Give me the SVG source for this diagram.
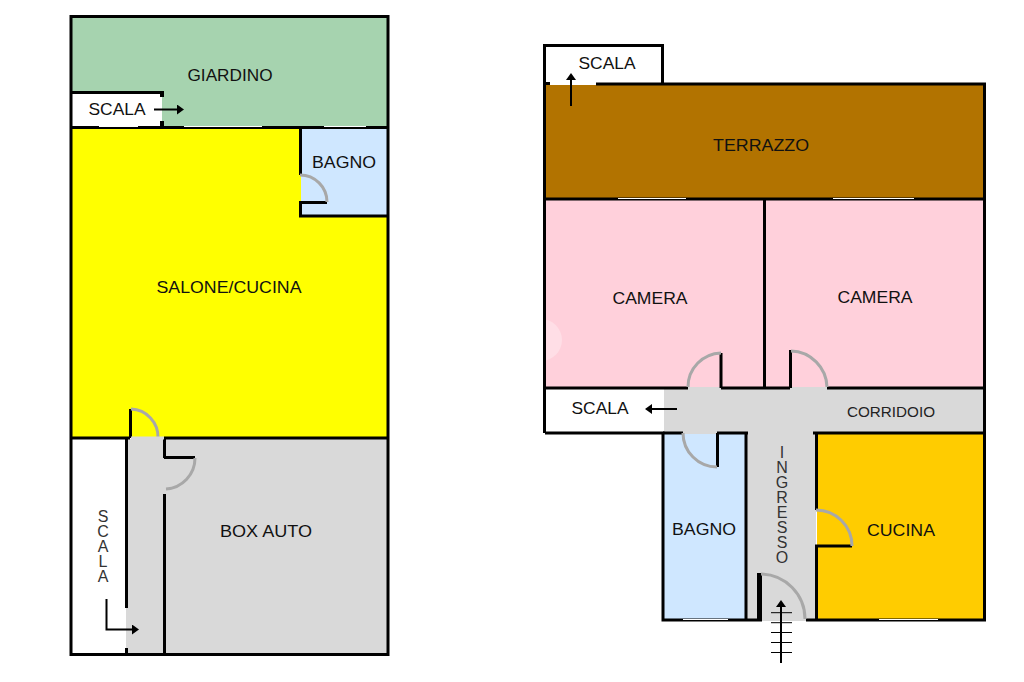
<svg xmlns="http://www.w3.org/2000/svg" width="1024" height="682" viewBox="0 0 1024 682">
<style>
text{font-family:"Liberation Sans",Arial,sans-serif;font-size:17px;fill:#111;text-anchor:middle}
.w{fill:none;stroke:#000;stroke-width:3}
.l{fill:none;stroke:#000;stroke-width:3}
.a{fill:none;stroke:#a8a8a8;stroke-width:3}
.win{fill:none;stroke:#fff;stroke-width:1.2}
.c{fill:none;stroke:#000;stroke-width:2}
.thin{font-size:14px;fill:#222}
.v{font-size:16px;fill:#333}
</style>
<defs>
<marker id="h" markerWidth="3.500" markerHeight="5" refX="0" refY="2.500" orient="auto"><path d="M0 0L3.500 2.500L0 5z" fill="#000"/></marker>
</defs>
<rect width="1024" height="682" fill="#fff"/>

<g id="giardino">
<rect x="71" y="17" width="317" height="110" fill="#a6d3af"/>
<text x="230" y="80.500" textLength="85" lengthAdjust="spacingAndGlyphs">GIARDINO</text>
</g>
<g id="scala-giardino">
<rect x="72" y="92" width="90" height="35" fill="#fff"/>
<path class="w" d="M71 92.500H163"/>
<path d="M160 91h4v6h-4zM160 121h4v6h-4z" fill="#000"/>
<text x="117" y="114.500" textLength="57" lengthAdjust="spacingAndGlyphs">SCALA</text>
</g>
<g id="salone-cucina">
<rect x="71" y="128" width="317" height="310" fill="#ffff00"/>
<text x="229" y="292.500" textLength="145" lengthAdjust="spacingAndGlyphs">SALONE/CUCINA</text>
</g>
<g id="bagno-terra">
<rect x="301" y="128" width="87" height="87" fill="#cfe7ff"/>
<path class="w" d="M300.500 127V175M300.500 202V216H388"/>
<path class="l" d="M299 202.500H327"/>
<path class="a" d="M300 175A27 27 0 0 1 327 202"/>
<text x="344" y="167.500" textLength="64" lengthAdjust="spacingAndGlyphs">BAGNO</text>
</g>
<g id="scala-terra">
<rect x="72" y="439" width="55" height="215" fill="#fff"/>
<text x="103" y="521.500" class="v"><tspan x="103">S</tspan><tspan x="103" dy="15">C</tspan><tspan x="103" dy="15">A</tspan><tspan x="103" dy="15">L</tspan><tspan x="103" dy="15">A</tspan></text>
</g>
<g id="box-auto">
<rect x="126" y="439" width="262" height="215" fill="#d9d9d9"/>
<path class="w" d="M126.500 438V608M126.500 648V654M164.500 438V458M164.500 494V654"/>
<path class="l" d="M164 457.500H195"/>
<path class="a" d="M195 458A31 31 0 0 1 166 489"/>
<text x="266" y="536.500" textLength="92" lengthAdjust="spacingAndGlyphs">BOX AUTO</text>
</g>
<g id="porta-salone">
<path class="w" d="M130.500 409V438"/>
<path class="a" d="M131 409A28 28 0 0 1 158 438"/>
</g>
<g id="muri-terra">
<path class="w" d="M71 127.500H388M71 438H130M164 438H388"/>
<rect x="71" y="16.500" width="317" height="638" class="w"/>
<rect x="131" y="436.500" width="33" height="3" fill="#d9d9d9"/>
<path class="win" d="M99 126.500H138M184 126.500H262M324 126.500H366"/>
</g>

<g id="scala-alta">
<rect x="545" y="46" width="117" height="39" fill="#fff"/>
<path class="w" d="M662.500 84V45.500H544.500V84"/>
<text x="607" y="68.500" textLength="57" lengthAdjust="spacingAndGlyphs">SCALA</text>
</g>
<g id="terrazzo">
<rect x="545" y="85" width="439" height="114" fill="#b27300"/>
<text x="761" y="150.500" textLength="96" lengthAdjust="spacingAndGlyphs">TERRAZZO</text>
</g>
<g id="camera-1">
<rect x="545" y="200" width="220" height="188" fill="#ffd0db"/>
<circle cx="541" cy="340" r="21" fill="#fff" opacity=".3"/>
<text x="650" y="303.500" textLength="75" lengthAdjust="spacingAndGlyphs">CAMERA</text>
</g>
<g id="camera-2">
<rect x="765" y="200" width="219" height="188" fill="#ffd0db"/>
<text x="875" y="302.500" textLength="75" lengthAdjust="spacingAndGlyphs">CAMERA</text>
</g>
<g id="scala-corridoio">
<rect x="546" y="390" width="119" height="42" fill="#fff"/>
<text x="600" y="413.500" textLength="57" lengthAdjust="spacingAndGlyphs">SCALA</text>
</g>
<g id="corridoio">
<rect x="664" y="387" width="320" height="46" fill="#d9d9d9"/>
<text x="891" y="417" class="thin" textLength="88" lengthAdjust="spacingAndGlyphs">CORRIDOIO</text>
</g>
<g id="bagno">
<rect x="663" y="434" width="84" height="186" fill="#cfe7ff"/>
<rect x="684" y="431" width="33" height="3" fill="#d9d9d9"/>
<text x="704" y="534.500" textLength="64" lengthAdjust="spacingAndGlyphs">BAGNO</text>
</g>
<g id="ingresso">
<rect x="747" y="432" width="69" height="189" fill="#d9d9d9"/>
<text x="782" y="457.500" class="v"><tspan x="782">I</tspan><tspan x="782" dy="15">N</tspan><tspan x="782" dy="15">G</tspan><tspan x="782" dy="15">R</tspan><tspan x="782" dy="15">E</tspan><tspan x="782" dy="15">S</tspan><tspan x="782" dy="15">S</tspan><tspan x="782" dy="15">O</tspan></text>
</g>
<g id="cucina">
<rect x="817" y="434" width="167" height="186" fill="#ffcc00"/>
<text x="901" y="535.500" textLength="68" lengthAdjust="spacingAndGlyphs">CUCINA</text>
</g>
<g id="muri-primo">
<path class="w" d="M544.500 83.500H550M596 84H984.500V620H806M762 620H663V433H545M544.500 83.500V433"/>
<path class="w" d="M545 199H984M764.500 199V388M545 388H688M721 388H790M827 388H984M663 433H683M717 433H748M813 433H984"/>
<path class="w" d="M746 433V620M816.500 433V510M816.500 546V620"/>
<path class="l" d="M721 353V388M790.500 350V388M717.500 433V467M815 546H852"/>
<path d="M757 573h5v47h-5z" fill="#000"/>
<path class="a" d="M721 353A34 34 0 0 0 688 387"/>
<path class="a" d="M791 351A37 37 0 0 1 827 387"/>
<path class="a" d="M683 433A34 34 0 0 0 717 467"/>
<path class="a" d="M816 510A36 36 0 0 1 852 546"/>
<path class="a" d="M761 574A45 45 0 0 1 805 619"/>
<path class="win" d="M618 198.500H686M833 198.500H914M683 619.500H728M879 619.500H938"/>
</g>

<g id="connectors">
<path class="c" d="M154 109.500H177" marker-end="url(#h)"/>
<path class="c" d="M106.500 599V629.500H132" marker-end="url(#h)"/>
<path class="c" d="M571 106V80" marker-end="url(#h)"/>
<path class="c" d="M677 409H652" marker-end="url(#h)"/>
<path class="c" d="M781 663V607" marker-end="url(#h)"/>
<path d="M771 612.700H792M771 622.700H792M771 632.500H792M771 642.500H792M771 652.500H792" fill="none" stroke="#000" stroke-width="1"/>
</g>
</svg>
